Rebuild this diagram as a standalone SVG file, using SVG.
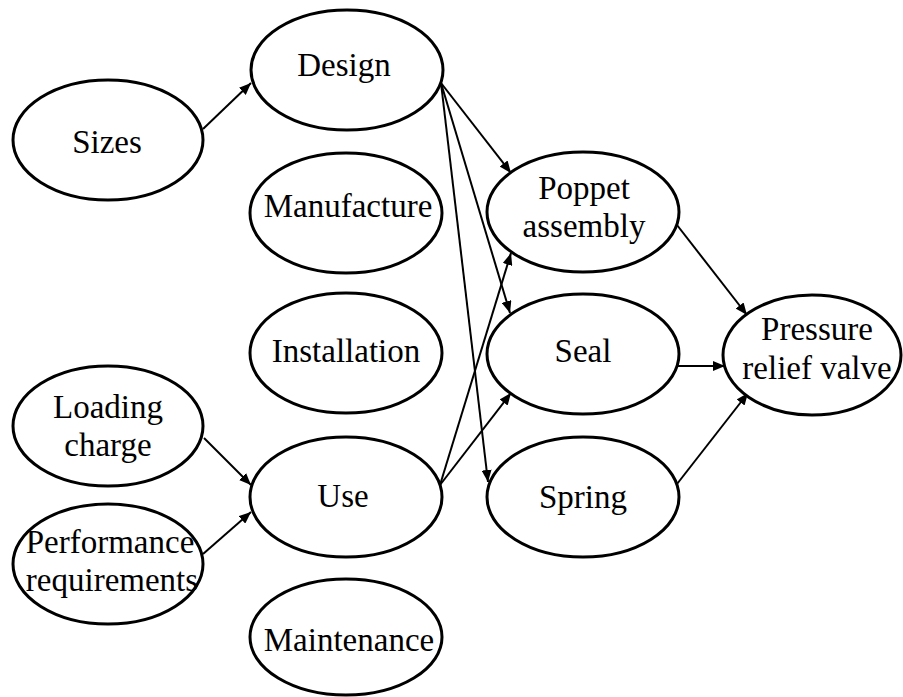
<svg xmlns="http://www.w3.org/2000/svg" width="903" height="697" viewBox="0 0 903 697">
<style>
.n ellipse{fill:#fff;stroke:#000;stroke-width:3}
.n text{font-family:'Liberation Serif','Times New Roman',serif;font-size:33px;fill:#000;text-anchor:middle}
.c line{stroke:#000;stroke-width:2;marker-end:url(#ah)}
</style>
<defs>
<marker id="ah" markerUnits="userSpaceOnUse" markerWidth="12" markerHeight="10" refX="12" refY="5" orient="auto">
<path d="M0,0 L12,5 L0,10 Z" fill="#000"/>
</marker>
</defs>
<rect width="903" height="697" fill="#fff"/>
<g class="c" id="connectors">
<line x1="203" y1="129" x2="251" y2="83"/>
<line x1="441" y1="83" x2="511" y2="173"/>
<line x1="441" y1="83" x2="510" y2="313"/>
<line x1="441" y1="83" x2="488" y2="482"/>
<line x1="440" y1="485" x2="511" y2="253"/>
<line x1="440" y1="485" x2="511" y2="393"/>
<line x1="204" y1="438" x2="251" y2="485"/>
<line x1="203" y1="554" x2="251" y2="512"/>
<line x1="677" y1="225" x2="747" y2="315"/>
<line x1="678" y1="366" x2="725" y2="366"/>
<line x1="677" y1="484" x2="748" y2="393"/>
</g>
<g class="n" id="sizes"><ellipse cx="108" cy="140" rx="95" ry="60"/><text x="107" y="153">Sizes</text></g>
<g class="n" id="design"><ellipse cx="347" cy="70" rx="96" ry="60"/><text x="344" y="76">Design</text></g>
<g class="n" id="manufacture"><ellipse cx="346" cy="213" rx="96" ry="60"/><text x="348" y="217">Manufacture</text></g>
<g class="n" id="installation"><ellipse cx="346" cy="353" rx="96" ry="60"/><text x="346" y="362">Installation</text></g>
<g class="n" id="use"><ellipse cx="346" cy="497" rx="96" ry="60"/><text x="343" y="507">Use</text></g>
<g class="n" id="maintenance"><ellipse cx="346" cy="637" rx="96" ry="58"/><text x="349" y="651">Maintenance</text></g>
<g class="n" id="loading"><ellipse cx="108" cy="426" rx="95" ry="60"/><text x="108" y="418">Loading</text><text x="108" y="456">charge</text></g>
<g class="n" id="performance"><ellipse cx="108" cy="564" rx="95" ry="60"/><text x="110" y="553">Performance</text><text x="112" y="591">requirements</text></g>
<g class="n" id="poppet"><ellipse cx="583" cy="212" rx="96" ry="60"/><text x="584" y="199">Poppet</text><text x="584" y="237">assembly</text></g>
<g class="n" id="seal"><ellipse cx="583" cy="354" rx="96" ry="60"/><text x="583" y="362">Seal</text></g>
<g class="n" id="spring"><ellipse cx="583" cy="497" rx="96" ry="60"/><text x="583" y="508">Spring</text></g>
<g class="n" id="prv"><ellipse cx="812" cy="355" rx="89" ry="60"/><text x="817" y="340">Pressure</text><text x="817" y="379">relief valve</text></g>
</svg>
